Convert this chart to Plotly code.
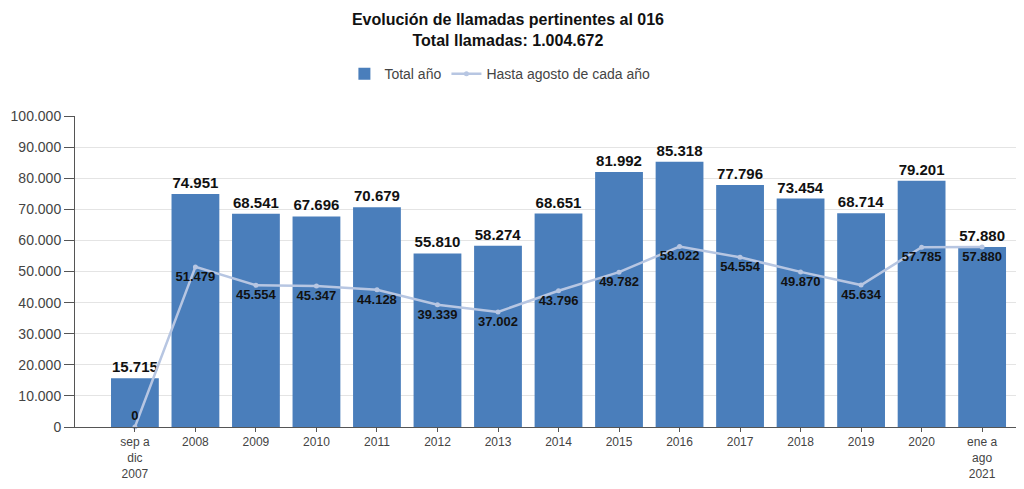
import plotly.graph_objects as go

# Data
CATEGORIES = ["sep a<br>dic<br>2007", "2008", "2009", "2010", "2011", "2012", "2013",
              "2014", "2015", "2016", "2017", "2018", "2019", "2020", "ene a<br>ago<br>2021"]
TOTAL_ANO = [15715, 74951, 68541, 67696, 70679, 55810, 58274,
             68651, 81992, 85318, 77796, 73454, 68714, 79201, 57880]
HASTA_AGOSTO = [0, 51479, 45554, 45347, 44128, 39339, 37002,
                43796, 49782, 58022, 54554, 49870, 45634, 57785, 57880]
Y_TICKS = list(range(0, 100001, 10000))


def fmt(v):
    return f"{v:,}".replace(",", ".")


x = list(range(len(CATEGORIES)))

fig = go.Figure()

fig.add_trace(go.Bar(
    x=x, y=TOTAL_ANO,
    name="Total año",
    marker=dict(color="#4a7ebb", line=dict(width=0)),
    width=0.79,
    text=[fmt(v) for v in TOTAL_ANO],
    textposition="outside",
    cliponaxis=False,
    textfont=dict(family="Liberation Sans", size=15, color="#111111", weight="bold"),
))

fig.add_trace(go.Scatter(
    x=x, y=HASTA_AGOSTO,
    name="Hasta agosto de cada año",
    mode="lines+markers+text",
    line=dict(color="#b7c6e2", width=2.5),
    marker=dict(size=5, color="#b7c6e2"),
    text=[fmt(v) for v in HASTA_AGOSTO],
    textposition=["top center"] + ["bottom center"] * (len(x) - 1),
    cliponaxis=False,
    textfont=dict(family="Liberation Sans", size=13, color="#111111", weight="bold"),
))

# the page body has an 8px margin, so the figure sits at (8, 8) in the window
fig.update_layout(
    autosize=True,
    paper_bgcolor="white", plot_bgcolor="white",
    font=dict(family="Liberation Sans", size=14, color="#444444"),
    title=dict(
        text="<b>Evolución de llamadas pertinentes al 016<br>Total llamadas: 1.004.672</b>",
        xref="container", x=0.496, xanchor="center",
        yref="container", y=0.964, yanchor="middle",
        font=dict(size=16, color="#111111"),
    ),
    legend=dict(
        orientation="h", xref="container", x=0.488, xanchor="center",
        yref="container", y=0.86, yanchor="middle",
        font=dict(size=14, color="#444444"),
        traceorder="normal",
    ),
    margin=dict(l=67, r=0, t=108, b=54, autoexpand=False),
    xaxis=dict(
        tickmode="array", tickvals=x, ticktext=CATEGORIES,
        range=[-0.99, 14.56],
        automargin=False,
        showline=True, linecolor="#555555", linewidth=1,
        ticks="outside", ticklen=4, tickcolor="#555555",
        showgrid=False, zeroline=False,
        tickfont=dict(size=12, color="#444444"),
    ),
    yaxis=dict(
        range=[0, 100000],
        automargin=False,
        tickmode="array", tickvals=Y_TICKS, ticktext=[fmt(v) for v in Y_TICKS],
        showline=True, linecolor="#555555", linewidth=1,
        ticks="outside", ticklen=10, tickcolor="#555555",
        showgrid=True, gridcolor="#e4e4e4",
        zeroline=False,
        tickfont=dict(size=14, color="#444444"),
    ),
)

fig.write_html("out.html")
